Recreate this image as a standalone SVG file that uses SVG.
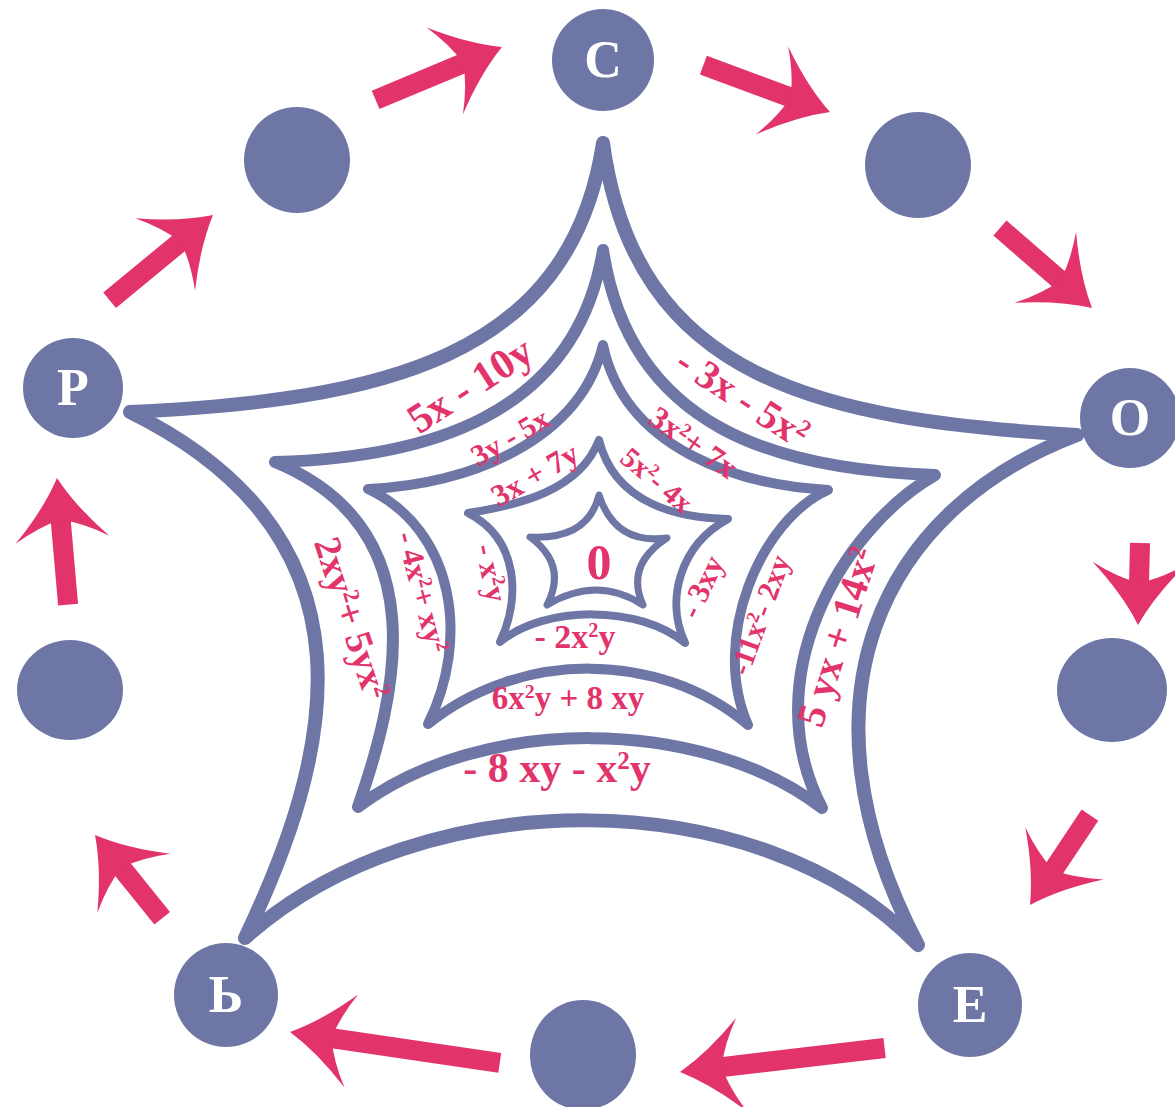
<svg xmlns="http://www.w3.org/2000/svg" width="1175" height="1107" viewBox="0 0 1175 1107">
<style>
.star{fill:none;stroke:#6e76a6;stroke-linejoin:round;stroke-linecap:round}
.node{fill:#6e76a6}
.lt{font-family:"Liberation Serif",serif;font-weight:bold;fill:#fff;font-size:52px;text-anchor:middle}
.ex{font-family:"Liberation Serif",serif;font-weight:bold;fill:#e2336b;text-anchor:middle}
.shaft{stroke:#e2336b;stroke-width:20}
</style>
<defs>
<path id="head" d="M0 0 Q-30 -16 -62 -47 Q-47 -22 -42 0 Q-47 22 -62 47 Q-30 16 0 0 Z" fill="#e2336b"/>
</defs>
<rect width="1175" height="1107" fill="#fff"/>
<g id="stars">
<path id="star1" class="star" stroke-width="14" d="M130,412 C380,400 570,360 603,143 C635,380 820,420 1077,435 C880,510 790,700 918,945 C760,780 420,780 245,938 C330,760 390,540 130,412 Z"/>
<path id="star2" class="star" stroke-width="12" d="M275,462 C420,458 575,420 603,250 C630,430 780,470 935,475 C840,530 755,680 822,808 C700,715 480,715 358,807 C395,700 440,530 275,462 Z"/>
<path id="star3" class="star" stroke-width="10" d="M368,489 C470,485 580,440 603,345 C625,450 740,485 828,490 C760,520 710,640 748,725 C660,650 520,650 428,724 C470,640 455,530 368,489 Z"/>
<path id="star4" class="star" stroke-width="8" d="M468,513 C520,505 580,490 599,440 C615,505 680,518 728,519 C680,545 665,600 685,643 C640,605 545,605 500,642 C520,600 520,540 468,513 Z"/>
<path id="star5" class="star" stroke-width="7" d="M530,537 Q588,540 599,495 Q615,545 667,538 Q625,565 643,605 Q597,575 547,605 Q568,565 530,537 Z"/>
</g>
<g id="labels">
<text class="ex" font-size="42" transform="translate(470,385) rotate(-33)" y="14">5x - 10y</text>
<text class="ex" font-size="40" transform="translate(743,397) rotate(33)" y="14">- 3x - 5x<tspan baseline-shift="super" font-size="60%">2</tspan></text>
<text class="ex" font-size="40" transform="translate(838,637) rotate(-72)" y="13">5 yx + 14x<tspan baseline-shift="super" font-size="60%">2</tspan></text>
<text class="ex" font-size="38" transform="translate(352,618) rotate(72)" y="13">2xy<tspan baseline-shift="super" font-size="60%">2</tspan>+ 5yx<tspan baseline-shift="super" font-size="60%">2</tspan></text>
<text class="ex" font-size="42" transform="translate(557,768)" y="14">- 8 xy - x<tspan baseline-shift="super" font-size="60%">2</tspan>y</text>
<text class="ex" font-size="30" transform="translate(510,437) rotate(-30)" y="10">3y - 5x</text>
<text class="ex" font-size="32" transform="translate(693,443) rotate(35)" y="10">3x<tspan baseline-shift="super" font-size="60%">2</tspan>+ 7x</text>
<text class="ex" font-size="30" transform="translate(760,615) rotate(-70)" y="10">-11x<tspan baseline-shift="super" font-size="60%">2</tspan>- 2xy</text>
<text class="ex" font-size="31" transform="translate(422,592) rotate(75)" y="10">- 4x<tspan baseline-shift="super" font-size="60%">2</tspan>+ xy<tspan baseline-shift="super" font-size="60%">2</tspan></text>
<text class="ex" font-size="33" transform="translate(568,698)" y="11">6x<tspan baseline-shift="super" font-size="60%">2</tspan>y + 8 xy</text>
<text class="ex" font-size="31" transform="translate(535,475) rotate(-30)" y="10">3x + 7y</text>
<text class="ex" font-size="29" transform="translate(657,480) rotate(40)" y="10">5x<tspan baseline-shift="super" font-size="60%">2</tspan>- 4x</text>
<text class="ex" font-size="31" transform="translate(702,587) rotate(-65)" y="10">- 3xy</text>
<text class="ex" font-size="31" transform="translate(491,573) rotate(78)" y="10">- x<tspan baseline-shift="super" font-size="60%">2</tspan>y</text>
<text class="ex" font-size="34" transform="translate(575,637)" y="11">- 2x<tspan baseline-shift="super" font-size="60%">2</tspan>y</text>
<text class="ex" font-size="50" x="599" y="579">0</text>
</g>
<g id="connectors">
<g transform="translate(213,215) rotate(-39.5)"><line class="shaft" x1="-134" y1="0" x2="-40" y2="0"/><use href="#head"/></g>
<g transform="translate(502,47) rotate(-22.7)"><line class="shaft" x1="-137" y1="0" x2="-40" y2="0"/><use href="#head"/></g>
<g transform="translate(830,112) rotate(20.3)"><line class="shaft" x1="-135" y1="0" x2="-40" y2="0"/><use href="#head"/></g>
<g transform="translate(1092,308) rotate(41)"><line class="shaft" x1="-122" y1="0" x2="-40" y2="0"/><use href="#head"/></g>
<g transform="translate(1138,625) rotate(91.4)"><line class="shaft" x1="-82" y1="0" x2="-40" y2="0"/><use href="#head"/></g>
<g transform="translate(1030,905) rotate(123.7)"><line class="shaft" x1="-108" y1="0" x2="-40" y2="0"/><use href="#head"/></g>
<g transform="translate(680,1072) rotate(173.3)"><line class="shaft" x1="-206" y1="0" x2="-40" y2="0"/><use href="#head"/></g>
<g transform="translate(290,1032) rotate(188.4)"><line class="shaft" x1="-212" y1="0" x2="-40" y2="0"/><use href="#head"/></g>
<g transform="translate(95,835) rotate(-128.9)"><line class="shaft" x1="-107" y1="0" x2="-40" y2="0"/><use href="#head"/></g>
<g transform="translate(57,478) rotate(-95)"><line class="shaft" x1="-127" y1="0" x2="-40" y2="0"/><use href="#head"/></g>
</g>
<g id="node-c"><circle class="node" cx="603" cy="60" r="51"/><text class="lt" x="603" y="77">С</text></g>
<g id="node-d1"><circle class="node" cx="918" cy="165" r="53"/></g>
<g id="node-o"><circle class="node" cx="1130" cy="418" r="50"/><text class="lt" x="1130" y="435">О</text></g>
<g id="node-d2"><ellipse class="node" cx="1112" cy="690" rx="55" ry="52"/></g>
<g id="node-e"><circle class="node" cx="970" cy="1005" r="52"/><text class="lt" x="970" y="1022">Е</text></g>
<g id="node-d3"><ellipse class="node" cx="583" cy="1055" rx="53" ry="55"/></g>
<g id="node-soft"><circle class="node" cx="226" cy="995" r="52"/><text class="lt" x="226" y="1012">Ь</text></g>
<g id="node-d4"><ellipse class="node" cx="70" cy="690" rx="53" ry="50"/></g>
<g id="node-p"><circle class="node" cx="73" cy="388" r="50"/><text class="lt" x="73" y="405">Р</text></g>
<g id="node-d5"><circle class="node" cx="297" cy="160" r="53"/></g>
</svg>
